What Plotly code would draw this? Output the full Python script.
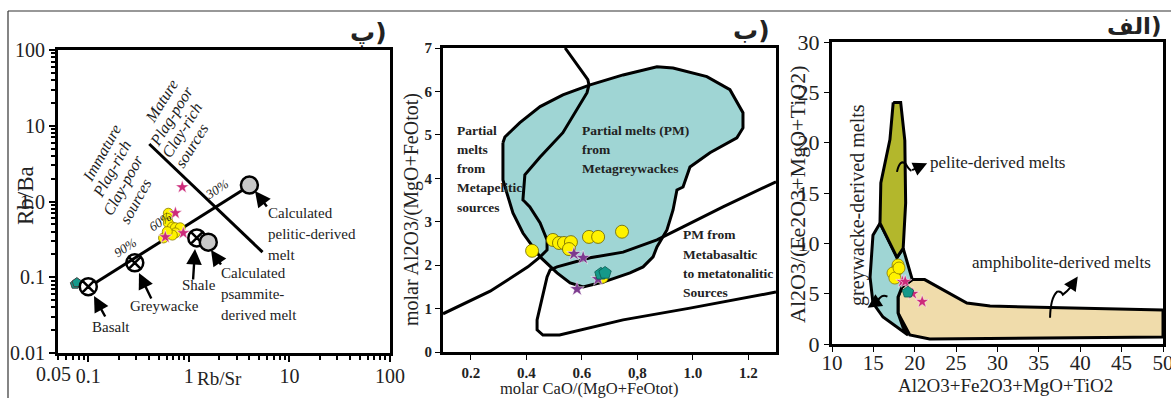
import plotly.graph_objects as go
import numpy as np

W, H = 1171, 398

# ---------------- Panel (پ): Rb/Sr vs Rb/Ba ----------------
yel_rbsr = [0.625, 0.61, 0.625, 0.686, 0.735, 0.82, 0.735, 0.56, 0.686, 0.61]
yel_rbba = [0.70, 0.60, 0.52, 0.46, 0.45, 0.45, 0.385, 0.33, 0.36, 0.40]
star_rbsr = [0.86, 0.735, 0.88, 0.583]
star_rbba = [1.55, 0.705, 0.384, 0.34]
pent_rbsr = [0.074, 0.077]
pent_rbba = [0.081, 0.085]

ref_names = ["Basalt", "Greywacke", "Shale"]
ref_rbsr = [0.1, 0.29, 1.2]
ref_rbba = [0.075, 0.155, 0.33]
melt_names = ["psammite", "pelitic"]
melt_rbsr = [1.56, 4.0]
melt_rbba = [0.29, 1.65]

mix_rbsr = [0.117, 3.83]
mix_rbba = [0.084, 1.55]
div_rbsr = [0.404, 5.4]
div_rbba = [5.74, 0.215]

# ---------------- Panel (ب): CaO/(MgO+FeOt) vs Al2O3/(MgO+FeOt) ----------------
yel_ca = [0.421, 0.496, 0.518, 0.536, 0.561, 0.554, 0.626, 0.659, 0.745, 0.673]
yel_al = [2.33, 2.58, 2.51, 2.51, 2.53, 2.37, 2.65, 2.65, 2.77, 1.73]
star_ca = [0.572, 0.605, 0.583, 0.659]
star_al = [2.26, 2.17, 1.45, 1.68]
pent_ca = [0.669, 0.684]
pent_al = [1.80, 1.82]

grey_field_x = [0.316, 0.323, 0.377, 0.450, 0.532, 0.630, 0.749, 0.871, 0.929, 1.051, 1.134,
                1.181, 1.181, 1.159, 1.062, 0.990, 0.965, 0.943, 0.929, 0.907, 0.871, 0.857,
                0.821, 0.774, 0.677, 0.605, 0.558, 0.511, 0.450, 0.388, 0.352, 0.331, 0.316, 0.316]
grey_field_y = [4.82, 4.95, 5.28, 5.65, 5.92, 6.15, 6.38, 6.57, 6.54, 6.34, 6.04,
                5.51, 5.16, 4.93, 4.59, 4.26, 3.80, 3.73, 3.27, 2.81, 2.42, 2.19,
                1.96, 1.82, 1.61, 1.50, 1.59, 1.82, 2.19, 2.74, 3.20, 3.66, 3.96, 4.82]
pel_line_x = [0.54, 0.622, 0.626, 0.619, 0.532, 0.45, 0.395, 0.388, 0.395, 0.413, 0.45,
              0.475, 0.475, 0.45, 0.406, 0.27, 0.1]
pel_line_y = [7.0, 6.27, 6.15, 5.97, 5.05, 4.49, 4.08, 3.50, 3.46, 3.34, 2.97,
              2.58, 2.35, 2.19, 1.96, 1.40, 0.88]
bas_line_x = [1.3, 1.109, 0.965, 0.871, 0.749, 0.630, 0.511, 0.486, 0.475, 0.457, 0.439,
              0.439, 0.46, 0.52, 0.749, 0.99, 1.3]
bas_line_y = [3.92, 3.34, 2.88, 2.58, 2.30, 2.17, 1.96, 1.89, 1.73, 1.20, 0.74,
              0.51, 0.39, 0.39, 0.74, 1.01, 1.38]

# ---------------- Panel (الف): sum vs ratio ----------------
yel_sum = [17.98, 17.85, 17.37, 17.6, 18.1]
yel_rat = [7.85, 7.35, 7.05, 6.55, 7.55]
star_sum = [18.5, 18.85, 19.75, 20.9]
star_rat = [6.2, 6.2, 5.0, 4.2]
pent_sum = [19.18]
pent_rat = [5.15]

pelite_x = [17.4, 18.3, 18.8, 18.9, 18.6, 17.85, 15.8, 15.9, 17.0, 17.4]
pelite_y = [24.0, 24.0, 20.2, 14.0, 9.5, 8.6, 12.0, 16.0, 20.3, 24.0]
greyw_x = [15.8, 17.85, 18.6, 19.7, 18.46, 17.98, 17.98, 18.58, 19.18, 17.85, 16.16,
           14.95, 14.6, 14.95, 15.8]
greyw_y = [12.0, 8.6, 9.5, 6.4, 5.66, 4.67, 3.08, 1.69, 0.89, 1.69, 2.68,
           4.07, 6.65, 10.8, 12.0]
amph_x = [19.7, 21.2, 26.3, 29.1, 50, 50, 21.8, 19.4, 17.98, 17.98, 18.46, 19.7]
amph_y = [6.4, 6.4, 4.07, 3.77, 3.38, 0.7, 0.5, 0.9, 3.08, 4.67, 5.66, 6.4]

SERIF = "Liberation Serif, Times New Roman, serif"
TEAL_FILL = "#9fd5d4"
OLIVE = "#b3b72c"
TAN = "#f0dcab"
YELLOW = "#fff200"
STAR_PINK = "#cc2a7a"
STAR_PURPLE = "#7c3a8e"
PENT = "#15998a"
INK = "#222"

fig = go.Figure()

def line(x, y, xa, ya, width=3, fill=None, fillcolor=None):
    fig.add_trace(go.Scatter(x=x, y=y, mode="lines", xaxis=xa, yaxis=ya,
                             line=dict(color="black", width=width),
                             fill=fill, fillcolor=fillcolor, hoverinfo="skip",
                             showlegend=False))

def pts(x, y, xa, ya, symbol, color, size, lw=1, lc="#444"):
    fig.add_trace(go.Scatter(x=x, y=y, mode="markers", xaxis=xa, yaxis=ya,
                             marker=dict(symbol=symbol, color=color, size=size,
                                         line=dict(color=lc, width=lw)),
                             showlegend=False))

# panel (پ)
line(mix_rbsr, mix_rbba, "x", "y")
line(div_rbsr, div_rbba, "x", "y")
pts(pent_rbsr, pent_rbba, "x", "y", "pentagon", PENT, 10)
pts(yel_rbsr, yel_rbba, "x", "y", "circle", YELLOW, 10, 0.8, "#8a7a00")
pts(star_rbsr, star_rbba, "x", "y", "star", STAR_PINK, 10, 0.5, "#fff")
pts(ref_rbsr, ref_rbba, "x", "y", "circle-x-open", "black", 17, 2.5, "black")
pts(melt_rbsr, melt_rbba, "x", "y", "circle", "#c8c8c8", 17, 2.5, "black")

# panel (ب)
line(grey_field_x, grey_field_y, "x2", "y2", fill="toself", fillcolor=TEAL_FILL)
line(pel_line_x, pel_line_y, "x2", "y2")
line(bas_line_x, bas_line_y, "x2", "y2")
pts(yel_ca, yel_al, "x2", "y2", "circle", YELLOW, 13, 0.8, "#6a6000")
pts(star_ca, star_al, "x2", "y2", "star", STAR_PURPLE, 11, 0.5, "#fff")
pts(pent_ca, pent_al, "x2", "y2", "pentagon", PENT, 13, 0.8, "#0b5a50")

# panel (الف)
line(amph_x, amph_y, "x3", "y3", fill="toself", fillcolor=TAN)
line(greyw_x, greyw_y, "x3", "y3", fill="toself", fillcolor=TEAL_FILL)
line(pelite_x, pelite_y, "x3", "y3", fill="toself", fillcolor=OLIVE)
pts(yel_sum, yel_rat, "x3", "y3", "circle", YELLOW, 12, 0.8, "#8a7a00")
pts(star_sum, star_rat, "x3", "y3", "star", STAR_PINK, 10, 0.5, "#fff")
pts(pent_sum, pent_rat, "x3", "y3", "pentagon", PENT, 12, 0.8, "#0b5a50")

def dom(a, b, total):
    return [a / total, b / total]

axis_common = dict(showline=True, linecolor="black", linewidth=3, mirror=True,
                   ticks="outside", tickcolor="black", showgrid=False, zeroline=False,
                   automargin=False, tickangle=0, ticklabeloverflow="allow")

log_minor = [v * 10.0 ** e for e in (-2, -1, 0, 1) for v in range(2, 10)]
log_minor_x = [v for v in log_minor if 0.05 <= v <= 100]

fig.update_layout(
    template="none",
    width=W, height=H, margin=dict(l=0, r=0, t=0, b=0),
    paper_bgcolor="white", plot_bgcolor="white",
    xaxis=dict(type="log", range=[np.log10(0.05), 2], domain=dom(58, 390, W),
               tickvals=[0.05, 0.1, 1, 10, 100], ticktext=["", "0.1", "1", "10", "100"],
               ticklen=6, tickwidth=1.5, ticklabelstandoff=-3,
               minor=dict(tickvals=log_minor_x, ticks="outside", ticklen=4, tickcolor="black"),
               tickfont=dict(family=SERIF, size=20, color=INK), anchor="y", **axis_common),
    yaxis=dict(type="log", range=[-2, 2], domain=[1 - 353 / H, 1 - 50 / H],
               tickvals=[0.01, 0.1, 1, 10, 100], ticktext=["0.01", "0.1", "1.0", "10", "100"],
               ticklen=6, tickwidth=1.5,
               minor=dict(tickvals=log_minor, ticks="outside", ticklen=4, tickcolor="black"),
               tickfont=dict(family=SERIF, size=20, color=INK), anchor="x", **axis_common),
    xaxis2=dict(range=[0.1, 1.3], domain=dom(443, 776, W),
                tickvals=[0.2, 0.4, 0.6, 0.8, 1.0, 1.2],
                ticktext=["0.2", "0.4", "0.6", "0,8", "1.0", "1.2"], ticklen=5,
                tickfont=dict(family=SERIF, size=15, color=INK, weight="bold"),
                anchor="y2", **axis_common),
    yaxis2=dict(range=[0, 7], domain=[1 - 352 / H, 1 - 48 / H], dtick=1, ticklen=5,
                tickfont=dict(family=SERIF, size=15, color=INK, weight="bold"),
                anchor="x2", **axis_common),
    xaxis3=dict(range=[10, 50], domain=dom(832, 1163, W), dtick=5, ticklen=5,
                ticklabelstandoff=-7,
                tickfont=dict(family=SERIF, size=21, color=INK), anchor="y3", **axis_common),
    yaxis3=dict(range=[0, 30], domain=[1 - 344 / H, 1 - 42 / H], dtick=5, ticklen=5,
                tickfont=dict(family=SERIF, size=22, color=INK), anchor="x3", **axis_common),
)

annotations = []

def ptxt(x, y, text, size=16, angle=0, xanchor="center", yanchor="middle", family=SERIF,
         color=INK, align="center", italic=False, bold=False):
    style = "italic" if italic else "normal"
    annotations.append(dict(x=x / W, y=1 - y / H, xref="paper", yref="paper", text=text,
                            showarrow=False, textangle=angle, xanchor=xanchor, yanchor=yanchor,
                            align=align,
                            font=dict(family=family, size=size, color=color, style=style,
                                      weight="bold" if bold else "normal")))

def block(x, y, dy, lines, **kw):
    # stacked lines with a fixed pixel spacing
    for i, t in enumerate(lines):
        ptxt(x, y + i * dy, t, **kw)

def rot_block(first, last, lines, angle, **kw):
    # rotated lines whose centres run from `first` to `last`
    n = len(lines)
    for i, t in enumerate(lines):
        f = i / (n - 1)
        ptxt(first[0] + f * (last[0] - first[0]), first[1] + f * (last[1] - first[1]), t,
             angle=angle, **kw)

# frame and panel tags
fig.add_shape(type="line", xref="paper", yref="paper", x0=8 / W, x1=1, y0=1 - 11 / H, y1=1 - 11 / H,
              line=dict(color="#333", width=1.2))
fig.add_shape(type="line", xref="paper", yref="paper", x0=8 / W, x1=8 / W, y0=0, y1=1 - 11 / H,
              line=dict(color="#333", width=1.2))
ptxt(389, 32, "پ)", size=25, xanchor="right", family="DejaVu Sans", bold=True)
ptxt(772, 31, "ب)", size=25, xanchor="right", family="DejaVu Sans", bold=True)
ptxt(1163, 26, "الف)", size=23, xanchor="right", family="DejaVu Sans", bold=True)

# axis titles
ptxt(53, 374, "0.05", size=20)
ptxt(25, 196, "Rb/Ba", size=23, angle=-90)
ptxt(219, 378, "Rb/Sr", size=19)
ptxt(412, 210, "molar Al2O3/(MgO+FeOtot)", size=20, angle=-90)
ptxt(589, 388, "molar CaO/(MgO+FeOtot)", size=16.5)
ptxt(798, 195, "Al2O3/(Fe2O3+MgO+TiO2)", size=22, angle=-90)
ptxt(1005, 385, "Al2O3+Fe2O3+MgO+TiO2", size=19)

# panel (پ) texts
rot_block((101, 153), (135, 201), ["Immature", "Plag-rich", "Clay-poor", "sources"], -61,
          size=16, italic=True)
rot_block((162, 101), (192, 146), ["Mature", "Plag-poor", "Clay-rich", "sources"], -58,
          size=16, italic=True)
ptxt(125, 247, "90%", size=13, angle=-33, italic=True)
ptxt(160, 221, "60%", size=13, angle=-33, italic=True)
ptxt(216, 189, "30%", size=13, angle=-33, italic=True)
ptxt(111, 327, "Basalt", size=15)
ptxt(164, 306, "Greywacke", size=15)
ptxt(199, 285, "Shale", size=15)
block(219, 273, 21, ["Calculated", "psammite-", "derived melt"], size=15, xanchor="left",
      align="left")
block(266, 213, 21, ["Calculated", "pelitic-derived", "melt"], size=15, xanchor="left",
      align="left")

def parrow(x0, y0, x1, y1, width=2.4):
    # arrow from (x0, y0) to (x1, y1), both in page pixels
    annotations.append(dict(x=x1 / W, y=1 - y1 / H, xref="paper", yref="paper",
                            ax=x0 - x1, ay=y0 - y1, axref="pixel", ayref="pixel",
                            text="", showarrow=True, arrowhead=2, arrowsize=1.3,
                            arrowwidth=width, arrowcolor="black"))

parrow(106, 318, 94, 296)
parrow(152, 300, 139, 273)
parrow(193, 281, 195, 249)
parrow(222, 266, 211, 250)
parrow(268, 208, 255, 191)

# panel (ب) texts
block(455, 130, 19.3, ["Partial", "melts", "from", "Metapelitic", "sources"], size=13.5,
      xanchor="left", align="left", bold=True)
block(580, 130, 19.3, ["Partial melts (PM)", "from", "Metagreywackes"], size=13.5,
      xanchor="left", align="left", bold=True)
block(681, 235, 19.3, ["PM from", "Metabasaltic", "to metatonalitic", "Sources"], size=13.5,
      xanchor="left", align="left", bold=True)

# panel (الف) texts and curved pointers
ptxt(928, 162, "pelite-derived melts", size=17, xanchor="left")
ptxt(1061, 262, "amphibolite-derived melts", size=17)
ptxt(858, 205, "greywacke-derived melts", size=20, angle=-90)

fig.add_shape(type="path", xref="x3", yref="y3",
              path="M 17.85,17.1 Q 18.2,18.4 18.9,17.9 Q 19.3,17.3 19.6,17.2",
              line=dict(color="black", width=2))
fig.add_shape(type="path", xref="x3", yref="y3",
              path="M 36.35,2.6 Q 36.4,4.6 37.2,5.2 Q 37.7,5.3 37.9,4.9 Q 38.4,5.2 38.9,5.7",
              line=dict(color="black", width=2))
fig.add_shape(type="path", xref="x3", yref="y3",
              path="M 16.7,4.7 Q 15.9,5.0 15.5,4.2",
              line=dict(color="black", width=2))
for (x0, y0, x1, y1) in [(19.5, 17.2, 21.5, 17.95), (38.8, 5.6, 39.7, 6.7), (15.5, 4.25, 14.3, 3.6)]:
    annotations.append(dict(x=x1, y=y1, ax=x0, ay=y0, xref="x3", yref="y3", axref="x3", ayref="y3",
                            text="", showarrow=True, arrowhead=2, arrowsize=1.4, arrowwidth=2,
                            arrowcolor="black"))

fig.update_layout(annotations=annotations)
fig.write_html("out.html")
